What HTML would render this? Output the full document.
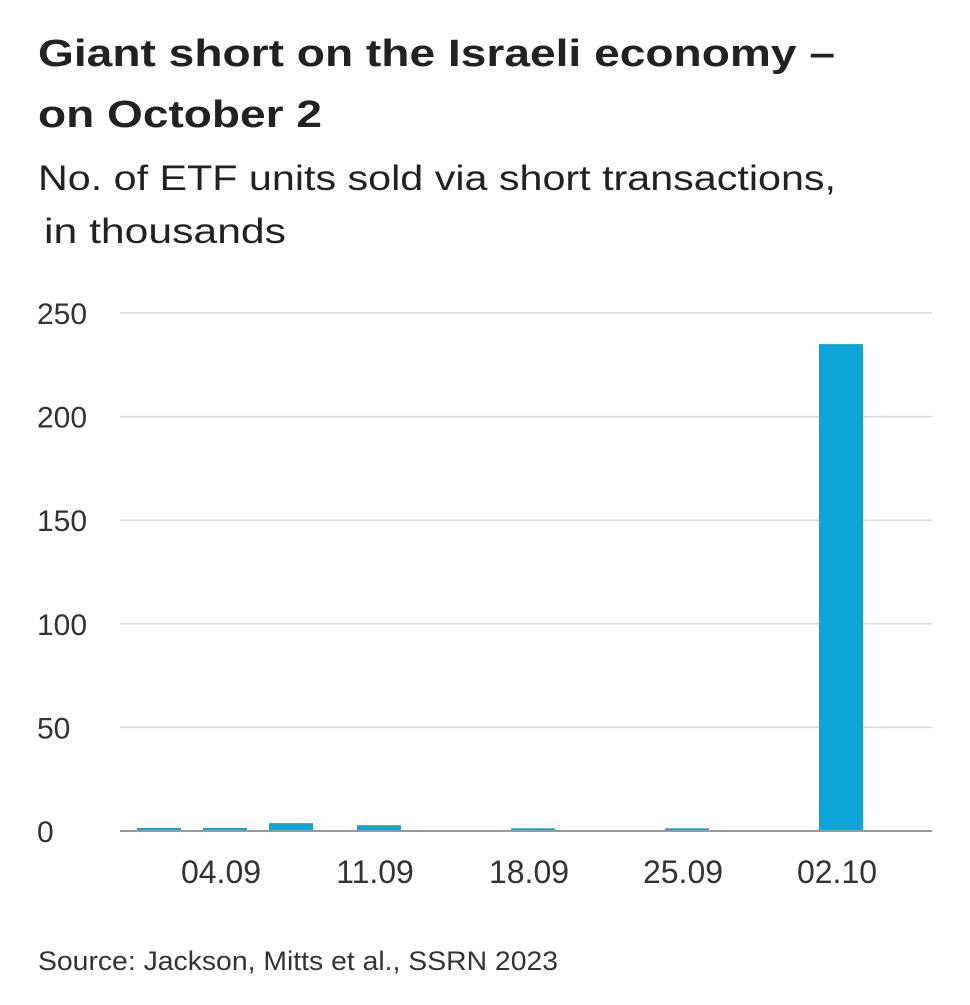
<!DOCTYPE html>
<html><head><meta charset="utf-8"><style>
html,body{margin:0;padding:0;background:#fff;}
svg{display:block;font-family:"Liberation Sans",sans-serif;}
</style></head><body>
<svg id="chart" width="970" height="1005" xmlns="http://www.w3.org/2000/svg">
<rect width="970" height="1005" fill="#fff"/>
<text x="38" y="66" font-size="38" font-weight="bold" fill="#222" textLength="797" lengthAdjust="spacingAndGlyphs">Giant short on the Israeli economy –</text>
<text x="38" y="127" font-size="38" font-weight="bold" fill="#222" textLength="284" lengthAdjust="spacingAndGlyphs">on October 2</text>
<text x="38" y="190" font-size="35" fill="#222" textLength="798" lengthAdjust="spacingAndGlyphs">No. of  ETF units sold via short transactions,</text>
<text x="44" y="243" font-size="35" fill="#222" textLength="242" lengthAdjust="spacingAndGlyphs">in thousands</text>
<g id="grid"></g><g id="bars"></g><g id="xlabels"></g>
<line x1="120" x2="932" y1="831" y2="831" stroke="#999" stroke-width="2"/>
<text x="38" y="970" font-size="27" fill="#333" textLength="520" lengthAdjust="spacingAndGlyphs">Source: Jackson, Mitts et al., SSRN 2023</text>
</svg>
<script>
const yTicks = [0, 50, 100, 150, 200, 250];
const barDays = [0, 3, 6, 10, 17, 24, 31];
const barValues = [1.5, 1.5, 3.8, 2.8, 1.3, 1.3, 235];
const xTickDays = [3, 10, 17, 24, 31];
const xTickLabels = ["04.09", "11.09", "18.09", "25.09", "02.10"];
const NS = "http://www.w3.org/2000/svg";
const y = v => 831 - v * (831 - 313) / 250;
const x = d => 159 + d * 22;
const mk = (t, a, p) => { const e = document.createElementNS(NS, t); for (const k in a) e.setAttribute(k, a[k]); p.appendChild(e); return e; };
const grid = document.getElementById('grid');
yTicks.forEach(v => {
  if (v > 0) {
    const l = mk('line', {x1:120, x2:932, y1:y(v), y2:y(v), stroke:'#d9d9d9', 'stroke-width':1.5}, grid);
    
    
  }
  const t = mk('text', {x:37, y:y(v)+11, 'font-size':30, fill:'#333'}, grid);
  t.textContent = v;
  
  
});
const bars = document.getElementById('bars');
barDays.forEach((d, i) => {
  const r = mk('rect', {x:x(d)-22, y:y(barValues[i]), width:44, height:831-y(barValues[i]), fill:'#0ea5d9'}, bars);
  
  
});
const xl = document.getElementById('xlabels');
xTickDays.forEach((d, i) => {
  const t = mk('text', {x:x(d)-4, y:883, 'font-size':32, fill:'#333', 'text-anchor':'middle'}, xl);
  t.textContent = xTickLabels[i];
  
  
});
</script>
</body></html>
